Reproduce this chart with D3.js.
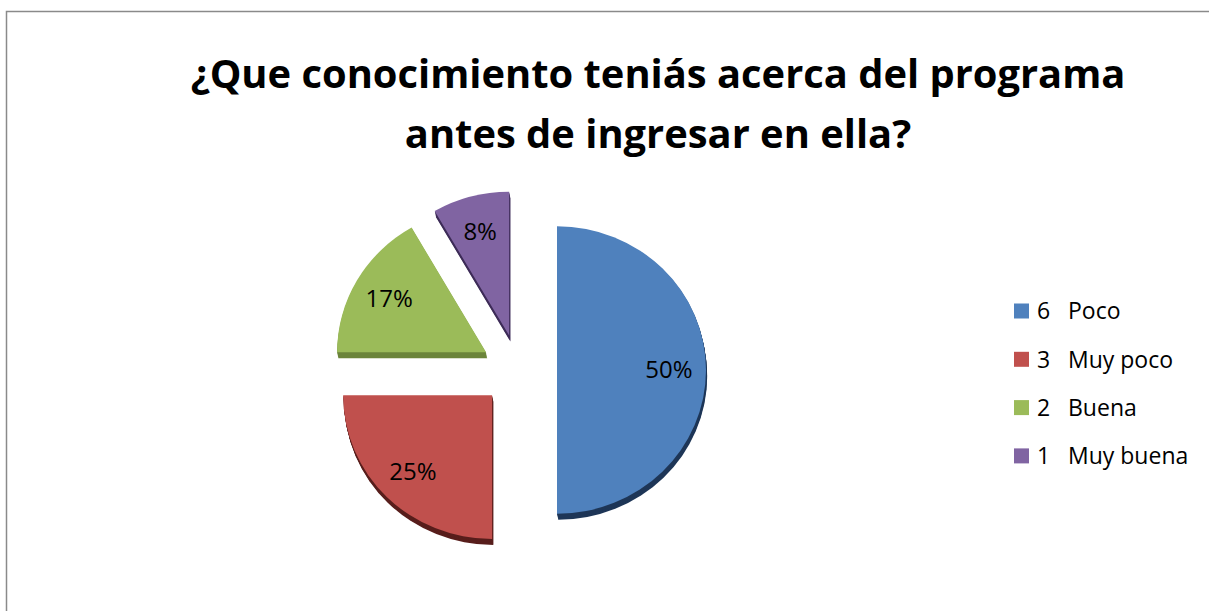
<!DOCTYPE html>
<html>
<head>
<meta charset="utf-8">
<script src="https://d3js.org/d3.v7.min.js"></script>
<style>
body { margin: 0; background: #fff; }
svg { font-family: "Open Sans", sans-serif; }
</style>
</head>
<body>
<svg id="chart" width="1209" height="611"></svg>
<script>
var categories = ["Poco", "Muy poco", "Buena", "Muy buena"];
var counts = [6, 3, 2, 1];
var titleLines = ["¿Que conocimiento teniás acerca del programa", "antes de ingresar en ella?"];

var colors = ["#4F81BD", "#C0504D", "#9BBB59", "#8064A2"];
var sideColors = ["#1E3657", "#581E1C", "#6B853B", "#3E2C58"];

var svg = d3.select("#chart");
var cx = 519, cy = 370, r = 149, tilt = 0.965, explode = 38, kExplode = 0.94, depth = 6;

// chart area border (top and left edges visible)
svg.append("rect")
    .attr("x", 6.5).attr("y", 11.5)
    .attr("width", 1300).attr("height", 700)
    .attr("fill", "none")
    .attr("stroke", "#8a8a8a")
    .attr("stroke-width", 1.5);

// title
var title = svg.append("g").attr("font-weight", "bold").attr("fill", "#000");
title.selectAll("text")
    .data(titleLines)
    .enter()
    .append("text")
    .attr("x", 658)
    .attr("y", function (d, i) { return 88 + i * 60; })
    .attr("text-anchor", "middle")
    .attr("font-size", 40)
    .text(function (d) { return d; });
var len = title.select("text").node().getComputedTextLength();
title.selectAll("text").attr("font-size", 40 * 935 / len);

// pie
var pie = d3.pie().sort(null).value(function (d) { return d; });
var arcs = pie(counts);
var total = d3.sum(counts);
var pct = d3.format(".0%");
var arc = d3.arc().innerRadius(0).outerRadius(r);
var labelArc = d3.arc().innerRadius(112).outerRadius(112);

function mid(d) { return (d.startAngle + d.endAngle) / 2; }

var slices = svg.selectAll(".slice")
    .data(arcs)
    .enter()
    .append("g")
    .attr("class", "slice")
    .attr("transform", function (d) {
        var a = mid(d);
        return "translate(" + (cx + explode * Math.sin(a)) + "," + (cy - explode * Math.cos(a) * kExplode) + ")";
    });

// side / depth of each slice
slices.each(function (d, i) {
    var g = d3.select(this);
    d3.range(depth, 0, -1).forEach(function (k) {
        g.append("path")
            .attr("transform", "translate(" + (k * 0.2) + "," + k + ") scale(1," + tilt + ")")
            .attr("d", arc(d))
            .attr("fill", sideColors[i]);
    });
});

// top surface
slices.append("path")
    .attr("transform", "scale(1," + tilt + ")")
    .attr("d", arc)
    .attr("fill", function (d, i) { return colors[i]; });

slices.append("text")
    .attr("x", function (d) { return labelArc.centroid(d)[0]; })
    .attr("y", function (d) { return labelArc.centroid(d)[1] * tilt; })
    .attr("dy", "0.35em")
    .attr("text-anchor", "middle")
    .attr("font-size", 24)
    .attr("fill", "#000")
    .text(function (d) { return pct(d.value / total); });

// legend
var legend = svg.selectAll(".legend")
    .data(categories)
    .enter()
    .append("g")
    .attr("class", "legend")
    .attr("transform", function (d, i) { return "translate(1014," + (311 + i * 48.3) + ")"; });

legend.append("rect")
    .attr("x", 0).attr("y", -7.5)
    .attr("width", 15).attr("height", 15)
    .attr("fill", function (d, i) { return colors[i]; });

legend.append("text")
    .attr("x", 23)
    .attr("dy", "0.36em")
    .attr("font-size", 23)
    .text(function (d, i) { return counts[i]; });

legend.append("text")
    .attr("x", 54)
    .attr("dy", "0.36em")
    .attr("font-size", 23)
    .text(function (d) { return d; });
</script>
</body>
</html>
